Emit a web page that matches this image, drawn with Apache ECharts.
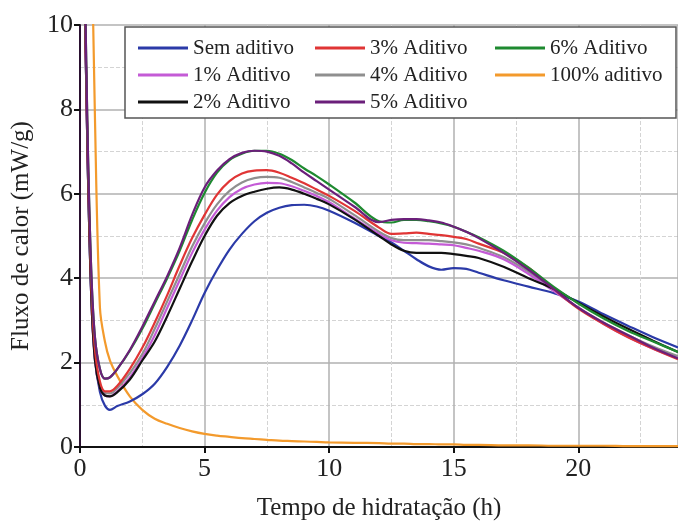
<!DOCTYPE html>
<html>
<head>
<meta charset="utf-8">
<script src="https://cdn.jsdelivr.net/npm/echarts@6/dist/echarts.min.js"></script>
<style>
  html, body { margin: 0; padding: 0; background: #fff; }
  #main { width: 678px; height: 526px; }
</style>
</head>
<body>
<div id="main"></div>
<script>
// tempo (h) comum a todas as curvas
var tempo = [0, 0.15, 0.3, 0.45, 0.6, 0.8, 1.0, 1.2, 1.5, 2, 2.5, 3, 3.5, 4, 4.5, 5, 5.5, 6, 6.5, 7, 7.5, 8, 8.5, 9, 9.5, 10,
  11, 12, 12.5, 13, 13.5, 14, 14.5, 15, 15.5, 16, 17, 18, 19, 20, 21, 22, 23, 24];

var semAditivo = [16, 12, 7, 3.6, 2.1, 1.3, 0.98, 0.88, 0.97, 1.08, 1.25, 1.5, 1.9, 2.4, 3.0, 3.65, 4.2, 4.68, 5.05, 5.35, 5.55, 5.67, 5.73, 5.74, 5.7, 5.6,
  5.32, 5.0, 4.85, 4.65, 4.45, 4.28, 4.2, 4.24, 4.22, 4.13, 3.95, 3.8, 3.65, 3.45, 3.15, 2.87, 2.6, 2.36];
var aditivo1 = [16, 12, 7, 3.6, 2.05, 1.4, 1.22, 1.2, 1.32, 1.65, 2.1, 2.65, 3.3, 3.95, 4.6, 5.15, 5.6, 5.92, 6.12, 6.22, 6.26, 6.25, 6.18, 6.07, 5.95, 5.8,
  5.42, 5.05, 4.9, 4.84, 4.83, 4.82, 4.8, 4.78, 4.72, 4.65, 4.45, 4.1, 3.7, 3.3, 2.92, 2.6, 2.33, 2.1];
var aditivo2 = [16, 12, 7, 3.6, 2.05, 1.4, 1.22, 1.2, 1.3, 1.6, 2.05, 2.5, 3.1, 3.75, 4.4, 5.0, 5.48, 5.78, 5.95, 6.05, 6.12, 6.15, 6.1, 6.0, 5.88, 5.75,
  5.4, 5.0, 4.8, 4.65, 4.6, 4.6, 4.6, 4.57, 4.53, 4.48, 4.27, 4.0, 3.75, 3.42, 3.1, 2.8, 2.52, 2.25];
var aditivo3 = [16, 12, 7.2, 3.9, 2.3, 1.55, 1.32, 1.32, 1.45, 1.85, 2.35, 2.95, 3.6, 4.3, 4.95, 5.5, 5.98, 6.3, 6.48, 6.55, 6.56, 6.5, 6.38, 6.25, 6.1, 5.95,
  5.6, 5.2, 5.05, 5.06, 5.08, 5.05, 5.02, 4.98, 4.93, 4.82, 4.6, 4.25, 3.75, 3.28, 2.92, 2.6, 2.33, 2.08];
var aditivo4 = [16, 12, 7, 3.7, 2.1, 1.45, 1.28, 1.27, 1.4, 1.75, 2.2, 2.8, 3.45, 4.1, 4.75, 5.3, 5.75, 6.07, 6.27, 6.37, 6.4, 6.38, 6.28, 6.15, 6.02, 5.88,
  5.5, 5.1, 4.95, 4.9, 4.9, 4.9, 4.88, 4.85, 4.8, 4.72, 4.5, 4.15, 3.72, 3.3, 2.95, 2.65, 2.38, 2.15];
var aditivo5 = [16, 12.5, 7.5, 4.2, 2.6, 1.85, 1.62, 1.65, 1.85, 2.3, 2.85, 3.45, 4.05, 4.72, 5.5, 6.15, 6.55, 6.82, 6.97, 7.02, 7.0, 6.9, 6.72, 6.5, 6.3, 6.1,
  5.7, 5.33, 5.38, 5.4, 5.4, 5.37, 5.32, 5.22, 5.1, 4.95, 4.6, 4.2, 3.75, 3.3, 2.95, 2.65, 2.35, 2.1];
var aditivo6 = [16, 12.5, 7.5, 4.2, 2.6, 1.85, 1.62, 1.65, 1.85, 2.28, 2.8, 3.4, 4.0, 4.65, 5.38, 6.02, 6.5, 6.8, 6.95, 7.02, 7.02, 6.95, 6.8, 6.6, 6.42, 6.22,
  5.8, 5.35, 5.32, 5.38, 5.38, 5.35, 5.3, 5.22, 5.1, 4.97, 4.65, 4.25, 3.8, 3.4, 3.05, 2.75, 2.5, 2.25];
var aditivo100 = [30, 26, 20, 13, 7.8, 3.3, 2.5, 2.05, 1.68, 1.2, 0.88, 0.67, 0.55, 0.45, 0.37, 0.31, 0.27, 0.24, 0.21, 0.19, 0.17, 0.15, 0.14, 0.13, 0.12, 0.11,
  0.1, 0.09, 0.08, 0.08, 0.07, 0.07, 0.06, 0.06, 0.05, 0.05, 0.04, 0.04, 0.03, 0.03, 0.03, 0.02, 0.02, 0.02];

var nomes = ['Sem aditivo', '1% Aditivo', '2% Aditivo', '3% Aditivo', '4% Aditivo', '5% Aditivo', '6% Aditivo', '100% aditivo'];
var cores = ['#2b3aa8', '#c45bd6', '#111111', '#e03535', '#8f8f8f', '#6b1f7a', '#1e8a30', '#f39a2c'];
var valores = [semAditivo, aditivo1, aditivo2, aditivo3, aditivo4, aditivo5, aditivo6, aditivo100];
// ordem de desenho (ultima fica por cima)
var ordem = [7, 0, 4, 1, 2, 3, 6, 5];

var fonte = 'Liberation Serif';

function pares(v) {
  var out = [];
  for (var i = 0; i < tempo.length; i++) out.push([tempo[i], v[i]]);
  return out;
}

var series = ordem.map(function (k) {
  return {
    name: nomes[k],
    type: 'line',
    data: pares(valores[k]),
    showSymbol: false,
    symbol: 'none',
    smooth: 0.35,
    clip: true,
    lineStyle: { color: cores[k], width: 2.2 },
    itemStyle: { color: cores[k] }
  };
});

function legenda(left, itens) {
  return {
    orient: 'vertical',
    left: left,
    top: 32,
    z: 10,
    data: itens,
    icon: 'rect',
    itemWidth: 50,
    itemHeight: 3,
    itemGap: 5,
    selectedMode: false,
    textStyle: { fontFamily: fonte, fontSize: 21, color: '#222', lineHeight: 22, padding: [0, 0, 0, 0] }
  };
}

var myChart = echarts.init(document.getElementById('main'));

var option = {
  animation: false,
  backgroundColor: '#fff',
  grid: { left: 80, right: 0, top: 25, bottom: 78 },
  graphic: [{
    type: 'rect',
    z: 5,
    shape: { x: 125, y: 27, width: 551, height: 91 },
    style: { fill: '#fff', stroke: '#555', lineWidth: 1.5 }
  }],
  legend: [
    legenda(133, ['Sem aditivo', '1% Aditivo', '2% Aditivo']),
    legenda(310, ['3% Aditivo', '4% Aditivo', '5% Aditivo']),
    legenda(490, ['6% Aditivo', '100% aditivo'])
  ],
  xAxis: {
    type: 'value',
    min: 0,
    max: 24,
    interval: 5,
    name: 'Tempo de hidratação (h)',
    nameLocation: 'middle',
    nameGap: 49,
    nameTextStyle: { fontFamily: fonte, fontSize: 25, color: '#222' },
    axisLine: { onZero: false, lineStyle: { color: '#111', width: 2 } },
    axisTick: { show: true, length: 6, lineStyle: { color: '#111', width: 2 } },
    axisLabel: { fontFamily: fonte, fontSize: 26, color: '#222', margin: 9, showMaxLabel: false },
    splitLine: { show: true, lineStyle: { color: '#b0b0b0', width: 1.5 } },
    minorTick: { show: false, splitNumber: 2 },
    minorSplitLine: { show: true, lineStyle: { color: '#d4d4d4', width: 1, type: 'dashed' } }
  },
  yAxis: {
    type: 'value',
    min: 0,
    max: 10,
    interval: 2,
    name: 'Fluxo de calor (mW/g)',
    nameLocation: 'middle',
    nameGap: 46,
    nameTextStyle: { fontFamily: fonte, fontSize: 25, color: '#222' },
    axisLine: { show: true, lineStyle: { color: '#2a1030', width: 2 } },
    axisTick: { show: true, length: 6, lineStyle: { color: '#111', width: 2 } },
    axisLabel: { fontFamily: fonte, fontSize: 26, color: '#222', margin: 7 },
    splitLine: { show: true, lineStyle: { color: '#b0b0b0', width: 1.5 } },
    minorTick: { show: false, splitNumber: 2 },
    minorSplitLine: { show: true, lineStyle: { color: '#d4d4d4', width: 1, type: 'dashed' } }
  },
  series: series
};

myChart.setOption(option);
</script>
</body>
</html>
